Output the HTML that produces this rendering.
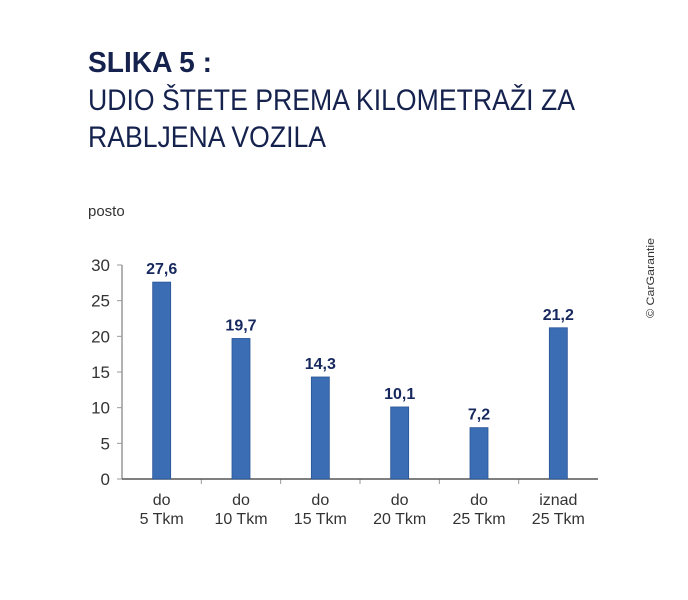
<!DOCTYPE html>
<html><head><meta charset="utf-8"><style>
body{margin:0;background:#fff;}
svg{display:block;font-family:"Liberation Sans",sans-serif;}
</style></head><body>
<svg width="688" height="600" viewBox="0 0 688 600">
<text x="88" y="72" font-size="29" font-weight="bold" fill="#16224e" textLength="124" lengthAdjust="spacingAndGlyphs">SLIKA 5 :</text>
<text x="88" y="110" font-size="30" fill="#16224e" textLength="487" lengthAdjust="spacingAndGlyphs">UDIO ŠTETE PREMA KILOMETRAŽI ZA</text>
<text x="88" y="147" font-size="30" fill="#16224e" textLength="238" lengthAdjust="spacingAndGlyphs">RABLJENA VOZILA</text>
<text x="88" y="216" font-size="15" fill="#333">posto</text>
<text transform="translate(654,318) rotate(-90)" font-size="11" fill="#333" textLength="80" lengthAdjust="spacingAndGlyphs">© CarGarantie</text>
<g id="axes"></g>
<g id="bars"></g>
</svg>
<script>
const categories1 = ["do","do","do","do","do","iznad"];
const categories2 = ["5 Tkm","10 Tkm","15 Tkm","20 Tkm","25 Tkm","25 Tkm"];
const values = [27.6,19.7,14.3,10.1,7.2,21.2];
const valueLabels = ["27,6","19,7","14,3","10,1","7,2","21,2"];
const yTicks = [0,5,10,15,20,25,30];

const NS="http://www.w3.org/2000/svg";
const x0=122,x1=598,yBase=479,yTop=265,yMax=30;
const yScale=v=>yBase-(v/yMax)*(yBase-yTop);
const bw=(x1-x0)/categories1.length;
const xCenter=i=>x0+bw*(i+0.5);
function mk(tag,attrs,parent,txt){const e=document.createElementNS(NS,tag);for(const k in attrs)e.setAttribute(k,attrs[k]);if(txt!==undefined)e.textContent=txt;parent.appendChild(e);return e;}
const ax=document.getElementById('axes'),bg=document.getElementById('bars');
let e=mk('line',{x1:x0,y1:yTop,x2:x0,y2:yBase,stroke:'#999','stroke-width':1.5},ax);


yTicks.forEach(t=>{
  const y=yScale(t);
  let l=mk('line',{x1:x0-5,y1:y,x2:x0,y2:y,stroke:'#999','stroke-width':1},ax);
  
  
  let tx=mk('text',{x:x0-12,y:y+6,'font-size':17,fill:'#333','text-anchor':'end'},ax,String(t));
  
  
});
for(let i=1;i<categories1.length;i++){
  const x=x0+bw*i;
  let l=mk('line',{x1:x,y1:yBase,x2:x,y2:yBase+5,stroke:'#999','stroke-width':1},ax);
  
  
}
values.forEach((v,i)=>{
  const cx=xCenter(i),y=yScale(v);
  let r=mk('rect',{x:cx-9,y:y,width:18,height:yBase-y,fill:'#3a6db3',stroke:'#2a5597','stroke-width':0.8},bg);
  
  
  let t=mk('text',{x:cx,y:y-8,'font-size':16,'font-weight':'bold',fill:'#16285e','text-anchor':'middle'},bg,valueLabels[i]);
  
  
  let c1=mk('text',{x:cx,y:505,'font-size':16,fill:'#333','text-anchor':'middle'},bg,categories1[i]);
  
  
  let c2=mk('text',{x:cx,y:524,'font-size':16,fill:'#333','text-anchor':'middle'},bg,categories2[i]);
  
  
});
e=mk('line',{x1:x0,y1:yBase,x2:x1,y2:yBase,stroke:'#555','stroke-width':1.5},ax);


</script>
</body></html>
